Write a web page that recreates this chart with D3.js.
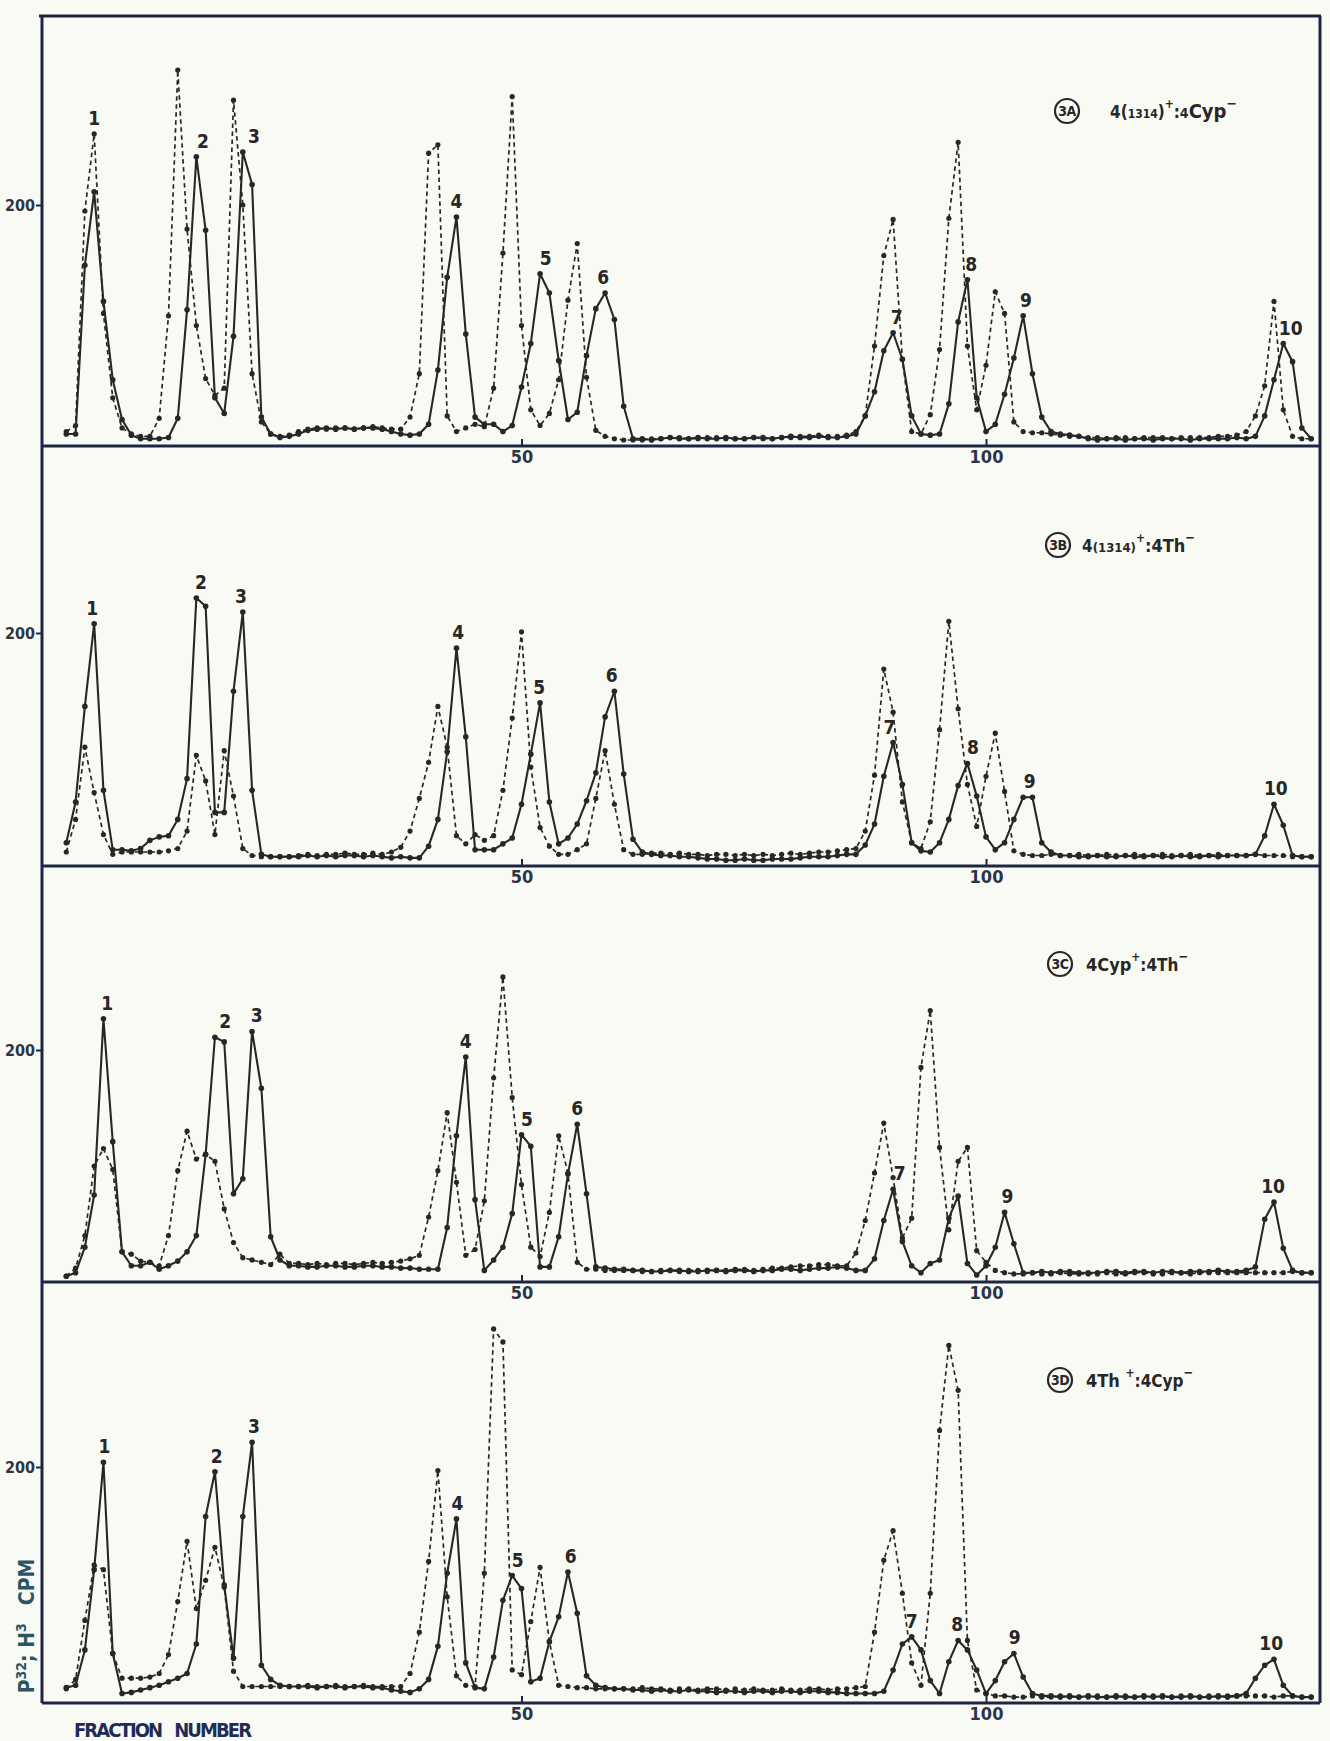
<!DOCTYPE html>
<html>
<head>
<meta charset="utf-8">
<script src="https://cdn.jsdelivr.net/npm/d3@7"></script>
<style>
  html, body { margin: 0; padding: 0; background: #fafaf4; }
  svg { display: block; }
  text { font-stretch: condensed; }
</style>
</head>
<body>
<script>
// fraction numbers 1..135
const fractions = d3.range(1, 136);

// 3A  4(1314)+ : 4Cyp-
const solidA = [10,10,150,211,120,55,22,9,6,6,6,7,23,113,240,179,40,27,91,244,217,24,10,7,8,
  10,13,14,15,14,15,14,15,15,14,12,10,9,10,18,63,140,190,93,24,18,18,12,17,49,85,143,127,71,22,28,75,114,127,105,33,6,
  6,5,6,7,6,6,7,6,6,7,6,6,7,7,6,7,8,7,7,8,7,7,8,
  10,25,45,79,94,72,25,10,9,10,35,103,138,40,12,18,43,73,108,60,24,12,10,9,8,
  6,5,6,6,5,6,6,5,6,6,6,5,6,6,6,6,7,
  6,8,25,55,85,70,15,6];
const dashedA = [12,17,195,259,110,40,15,10,8,8,23,108,312,180,100,56,42,48,287,200,60,20,10,8,9,
  12,14,15,14,15,15,14,15,16,15,14,14,24,60,243,250,25,12,15,18,16,48,160,290,100,30,17,27,55,121,168,57,13,8,6,5,5,
  5,6,6,7,7,6,6,7,7,6,6,6,7,6,6,7,7,8,8,9,8,8,9,
  12,25,83,158,188,72,12,10,26,80,189,252,83,30,67,128,110,20,12,11,11,10,9,8,8,
  7,7,6,7,7,6,7,7,7,6,7,7,7,7,8,8,9,
  12,25,50,120,30,8,6,6];

// 3B  4(1314)+ : 4Th-
const solidB = [20,55,137,208,65,14,14,13,15,22,25,26,40,75,230,223,46,46,150,218,65,10,8,8,8,
  8,9,8,9,8,9,9,8,9,8,7,8,7,7,17,40,98,187,111,14,14,14,19,24,53,96,140,55,19,24,36,56,80,128,150,79,23,
  12,10,9,9,8,8,7,6,6,5,5,6,5,5,6,6,6,7,8,8,8,9,10,
  10,18,36,77,106,70,20,13,12,20,40,69,88,60,25,14,20,40,59,59,20,12,9,9,8,
  8,9,8,8,9,8,8,9,8,8,9,8,8,9,8,9,9,
  9,10,26,53,35,9,8,8];
const dashedB = [12,40,102,63,27,10,12,12,12,12,12,13,15,30,95,73,27,99,60,15,9,8,8,8,8,
  9,10,9,10,10,11,10,10,11,10,12,16,30,58,89,137,102,26,19,27,22,26,65,127,201,85,33,17,10,10,14,19,58,99,53,14,10,
  10,11,11,10,11,10,10,9,10,10,9,10,9,10,9,10,11,10,11,12,12,13,14,
  15,30,78,169,132,55,20,15,38,117,210,135,70,34,77,114,64,13,10,9,9,10,9,9,10,
  9,9,10,9,9,10,9,9,10,9,9,10,9,9,10,9,9,
  9,10,9,9,9,8,8,8];

// 3C  4Cyp+ : 4Th-
const solidC = [5,8,30,75,227,121,26,14,14,17,11,14,18,26,40,110,211,207,76,89,216,167,39,19,14,
  14,13,13,14,14,13,13,14,14,13,13,12,12,11,11,11,47,126,194,71,10,19,30,59,127,117,13,13,39,93,136,76,13,12,11,11,10,
  10,9,9,10,10,9,9,10,10,9,10,10,9,10,10,11,11,10,11,12,12,13,12,
  10,10,20,53,80,35,14,8,16,19,55,74,16,6,14,30,60,33,8,8,9,8,9,9,8,
  8,8,9,9,8,9,9,8,9,9,8,9,9,9,10,9,9,
  10,13,54,69,29,10,8,8];
const dashedC = [5,12,40,100,115,97,26,24,18,17,14,40,96,130,106,110,104,63,34,21,19,17,15,24,16,
  16,15,16,15,16,16,15,16,17,16,17,18,20,23,56,96,146,86,23,28,70,176,263,159,84,30,22,60,126,94,17,11,11,10,10,10,10,
  9,9,10,10,9,10,10,9,10,10,11,11,10,11,12,12,13,14,14,15,15,14,14,
  25,53,94,137,90,38,55,185,234,116,45,104,116,27,17,10,8,7,7,8,7,7,8,7,7,
  7,7,8,7,7,8,8,7,7,8,8,7,8,8,8,8,8,
  8,8,8,8,8,9,8,8];

// 3D  4Th+ : 4Cyp-
const solidD = [13,15,45,113,204,42,8,9,11,13,15,18,21,25,50,158,196,100,38,158,221,32,20,15,14,
  14,14,13,14,14,13,14,14,13,13,11,10,9,12,20,48,110,156,34,13,12,39,87,108,97,18,21,52,73,111,76,23,15,13,12,12,11,
  11,10,11,10,10,11,10,10,9,10,10,9,10,10,9,10,10,9,10,10,9,9,8,
  8,8,8,10,28,50,56,45,19,8,35,53,45,28,8,19,35,42,22,8,6,6,5,6,5,
  6,5,5,6,5,5,6,5,6,5,5,6,5,5,6,5,6,
  8,21,32,37,15,6,5,5];
const dashedD = [12,20,70,117,113,42,21,21,21,22,25,41,86,137,80,104,132,98,27,14,14,14,14,14,14,
  14,15,14,14,15,14,14,15,14,14,14,14,25,60,120,197,90,23,15,14,110,317,306,28,24,69,115,52,15,14,13,13,12,12,12,12,12,
  13,12,12,11,12,12,11,12,12,11,12,11,12,11,11,12,11,11,12,12,11,12,12,
  13,14,60,121,146,93,34,15,93,231,303,265,53,11,8,6,6,5,5,6,5,5,6,5,5,
  5,6,5,5,6,5,5,6,5,5,6,5,5,6,5,6,6,
  6,6,6,5,6,6,5,5];

// peak numbers: [label, fraction, series it sits on]
const peaksA = [["1",4,"dashed"],["2",15.7,"solid"],["3",21.2,"solid"],["4",43,"solid"],["5",52.6,"solid"],
  ["6",58.8,"solid"],["7",90.4,"solid"],["8",98.4,"solid"],["9",104.3,"solid"],["10",132.8,"solid"]];
const peaksB = [["1",3.8,"solid"],["2",15.5,"solid"],["3",19.8,"solid"],["4",43.2,"solid"],["5",51.9,"solid"],
  ["6",59.7,"solid"],["7",89.6,"solid"],["8",98.6,"solid"],["9",104.7,"solid"],["10",131.2,"solid"]];
const peaksC = [["1",5.4,"solid"],["2",18.1,"solid"],["3",21.5,"solid"],["4",44,"solid"],["5",50.6,"solid"],
  ["6",56,"solid"],["7",90.7,"solid"],["9",102.3,"solid"],["10",130.9,"solid"]];
const peaksD = [["1",5.1,"solid"],["2",17.2,"solid"],["3",21.2,"solid"],["4",43.1,"solid"],["5",49.6,"solid"],
  ["6",55.3,"solid"],["7",92,"solid"],["8",96.9,"solid"],["9",103.1,"solid"],["10",130.7,"solid"]];

const xTicks = [50, 100];
const yTicks = [200];

const W = 1330, H = 1741;
const font = "'Liberation Sans Narrow','Arial Narrow','DejaVu Sans Condensed','Roboto Condensed',sans-serif";
const ink = "#272727";
const frameCol = "#1e2644";
const textCol = "#2c3448";

const leftX = 42, rightX = 1320, topY = 16;

const svg = d3.select("body").append("svg")
  .attr("width", W)
  .attr("height", H)
  .attr("viewBox", [0, 0, W, H]);

svg.append("rect").attr("width", W).attr("height", H).attr("fill", "#fafaf4");

const x = d3.scaleLinear().domain([0, 100]).range([57, 986]);

// panel setup built from the arrays above
const panels = [
  { solid: solidA, dashed: dashedA, peaks: peaksA, base: 446, y200: 205, tag: "3A",
    cx: 1067, cy: 111, tx: 1110, title: [["4(",17],["1314",12],[")",17],["+",12,"sup"],[":",17],["4",14],["Cyp",20],["−",14,"sup"]] },
  { solid: solidB, dashed: dashedB, peaks: peaksB, base: 866, y200: 633, tag: "3B",
    cx: 1058, cy: 545, tx: 1082, title: [["4",17],["(1314)",13],["+",12,"sup"],[":4Th",18],["−",13,"sup"]] },
  { solid: solidC, dashed: dashedC, peaks: peaksC, base: 1282, y200: 1050, tag: "3C",
    cx: 1060, cy: 964, tx: 1086, title: [["4Cyp",18],["+",12,"sup"],[":4Th",17],["−",13,"sup"]] },
  { solid: solidD, dashed: dashedD, peaks: peaksD, base: 1703, y200: 1467, tag: "3D",
    cx: 1060, cy: 1380, tx: 1086, title: [["4Th ",18],["+",12,"sup"],[":4Cyp",17],["−",13,"sup"]] }
];

// outer frame
const frame = svg.append("g").attr("stroke", frameCol).attr("stroke-width", 3).attr("fill", "none");
frame.append("line").attr("x1", leftX - 3).attr("x2", rightX + 1).attr("y1", topY).attr("y2", topY);
frame.append("line").attr("x1", leftX).attr("x2", leftX).attr("y1", topY).attr("y2", panels[3].base);
frame.append("line").attr("x1", rightX).attr("x2", rightX).attr("y1", topY).attr("y2", panels[3].base);

panels.forEach(p => {
  const y = d3.scaleLinear().domain([0, 200]).range([p.base, p.y200]);
  const g = svg.append("g");

  // x axis
  const xa = g.append("g")
    .attr("transform", `translate(0,${p.base})`)
    .call(d3.axisBottom(x).tickValues(xTicks).tickSize(-7).tickPadding(4).tickFormat(d3.format("d")));
  xa.select(".domain").remove();
  xa.selectAll(".tick line").attr("stroke", frameCol).attr("stroke-width", 2);
  xa.selectAll(".tick text").attr("fill", textCol).attr("font-family", font)
    .attr("font-weight", "bold").attr("font-size", 18);

  g.append("line")
    .attr("x1", leftX).attr("x2", rightX).attr("y1", p.base).attr("y2", p.base)
    .attr("stroke", frameCol).attr("stroke-width", 3);

  // y axis: only the 200 tick
  const ya = g.append("g")
    .attr("transform", `translate(${leftX},0)`)
    .call(d3.axisLeft(y).tickValues(yTicks).tickSize(6).tickPadding(1));
  ya.select(".domain").remove();
  ya.selectAll(".tick line").attr("stroke", frameCol).attr("stroke-width", 2);
  ya.selectAll(".tick text").attr("fill", textCol).attr("font-family", font)
    .attr("font-weight", "bold").attr("font-size", 16);

  const line = d3.line().x((d, i) => x(fractions[i])).y(d => y(d));

  // dashed series
  g.append("path")
    .attr("d", line(p.dashed))
    .attr("fill", "none").attr("stroke", ink)
    .attr("stroke-width", 1.7).attr("stroke-dasharray", "4.5,3.5");
  g.append("g").selectAll("circle")
    .data(p.dashed)
    .join("circle")
    .attr("cx", (d, i) => x(fractions[i]))
    .attr("cy", d => y(d))
    .attr("r", 2.6)
    .attr("fill", ink);

  // solid series
  g.append("path")
    .attr("d", line(p.solid))
    .attr("fill", "none").attr("stroke", ink)
    .attr("stroke-width", 2.1).attr("stroke-linejoin", "round");
  g.append("g").selectAll("circle")
    .data(p.solid)
    .join("circle")
    .attr("cx", (d, i) => x(fractions[i]))
    .attr("cy", d => y(d))
    .attr("r", 2.8)
    .attr("fill", ink);

  // peak numbers sit above the local maximum of their series
  g.append("g").selectAll("text")
    .data(p.peaks)
    .join("text")
    .attr("x", d => x(d[1]))
    .attr("y", d => {
      const s = d[2] === "dashed" ? p.dashed : p.solid;
      const c = Math.round(d[1]);
      const m = d3.max([c - 1, c, c + 1].filter(f => f >= 1 && f <= 135), f => s[f - 1]);
      return y(m) - 9;
    })
    .attr("text-anchor", "middle")
    .attr("font-family", font).attr("font-weight", "bold").attr("font-size", 19)
    .attr("fill", ink)
    .text(d => d[0]);

  // panel title: circled tag + cross
  g.append("circle")
    .attr("cx", p.cx).attr("cy", p.cy).attr("r", 12)
    .attr("fill", "none").attr("stroke", ink).attr("stroke-width", 2.2);
  g.append("text")
    .attr("x", p.cx).attr("y", p.cy + 5)
    .attr("text-anchor", "middle")
    .attr("font-family", font).attr("font-weight", "bold").attr("font-size", 14)
    .attr("letter-spacing", -0.5)
    .attr("fill", ink)
    .text(p.tag);

  const t = g.append("text")
    .attr("x", p.tx).attr("y", p.cy + 7)
    .attr("font-family", font).attr("font-weight", "bold")
    .attr("fill", ink);
  let raised = false;
  p.title.forEach(([s, fs, kind]) => {
    const ts = t.append("tspan").attr("font-size", fs).text(s);
    if (kind === "sup" && !raised) { ts.attr("dy", -10); raised = true; }
    else if (kind !== "sup" && raised) { ts.attr("dy", 10); raised = false; }
  });
});

// y title, rotated
const yt = svg.append("text")
  .attr("transform", "translate(34,1626) rotate(-90)")
  .attr("text-anchor", "middle")
  .attr("font-family", font).attr("font-weight", "bold").attr("font-size", 21)
  .attr("fill", "#2a5566");
yt.append("tspan").text("P");
yt.append("tspan").attr("font-size", 14).attr("dy", -8).text("32");
yt.append("tspan").attr("dy", 8).text("; H");
yt.append("tspan").attr("font-size", 14).attr("dy", -8).text("3");
yt.append("tspan").attr("dy", 8).attr("dx", 18).text("CPM");

// x title
svg.append("text")
  .attr("x", 74).attr("y", 1737)
  .attr("font-family", font).attr("font-weight", "bold").attr("font-size", 20)
  .attr("fill", "#1f2d55")
  .attr("textLength", 178).attr("lengthAdjust", "spacing")
  .attr("xml:space", "preserve")
  .text("FRACTION   NUMBER");
</script>
</body>
</html>
